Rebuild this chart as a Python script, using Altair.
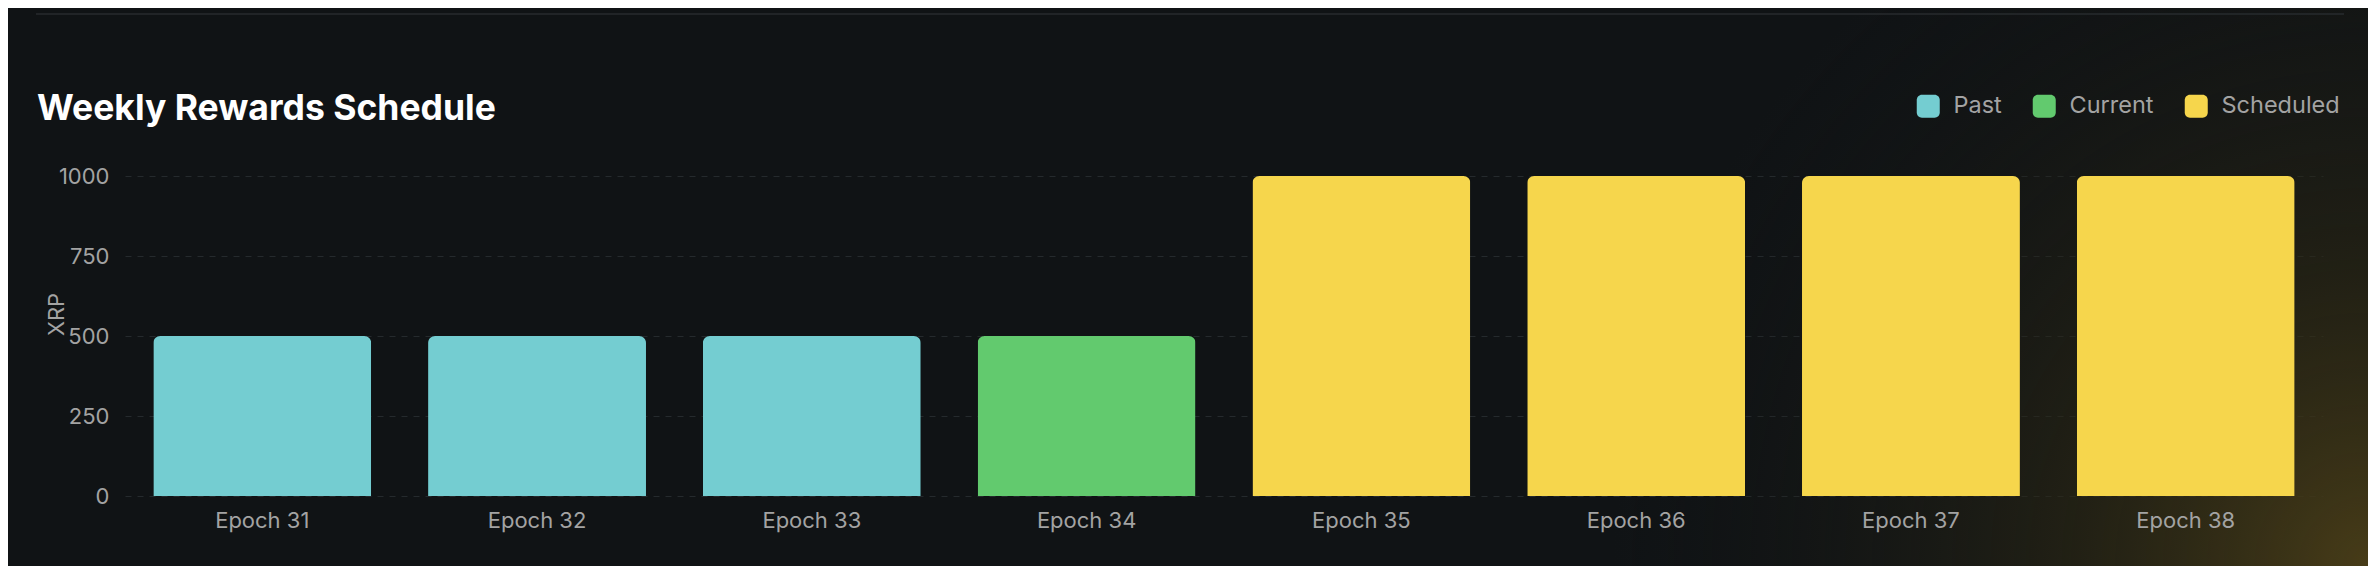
import altair as alt
import pandas as pd

# ---- data ----
epochs = ["Epoch 31", "Epoch 32", "Epoch 33", "Epoch 34",
          "Epoch 35", "Epoch 36", "Epoch 37", "Epoch 38"]
rewards = [500, 500, 500, 500, 1000, 1000, 1000, 1000]
status = ["Past", "Past", "Past", "Current",
          "Scheduled", "Scheduled", "Scheduled", "Scheduled"]
status_order = ["Past", "Current", "Scheduled"]
status_colors = ["#74CDD1", "#62CA6E", "#F6D64C"]
y_ticks = [0, 250, 500, 750, 1000]

df = pd.DataFrame({"epoch": epochs, "xrp": rewards, "status": status})

W, H = 2198, 320
PAD = {"left": 117, "top": 168, "right": 45, "bottom": 70}

rounded_sq = ("M -0.55 -1 L 0.55 -1 A 0.45 0.45 0 0 1 1 -0.55 L 1 0.55 "
              "A 0.45 0.45 0 0 1 0.55 1 L -0.55 1 A 0.45 0.45 0 0 1 -1 0.55 "
              "L -1 -0.55 A 0.45 0.45 0 0 1 -0.55 -1 Z")

# background glow (decoration)
glow = alt.Chart(alt.Data(values=[{"k": 1}])).mark_rect(
    fill=alt.RadialGradient(
        gradient="radial",
        x1=1, y1=0.618, r1=0,
        x2=1, y2=0.618, r2=0.32,
        stops=[
            alt.GradientStop(color="rgba(74,62,24,0.95)", offset=0),
            alt.GradientStop(color="rgba(44,40,20,0.6)", offset=0.4),
            alt.GradientStop(color="rgba(16,19,21,0)", offset=1),
        ],
    )
).encode(
    x=alt.value(-PAD["left"]), x2=alt.value(W + PAD["right"]),
    y=alt.value(-PAD["top"]), y2=alt.value(H + PAD["bottom"]),
)

top_line = alt.Chart(alt.Data(values=[{"k": 1}])).mark_rule(
    color="#272b2e", strokeWidth=1.5
).encode(
    x=alt.value(-89), x2=alt.value(2219), y=alt.value(-162)
)

bars = alt.Chart(df).mark_bar(
    cornerRadiusTopLeft=7, cornerRadiusTopRight=7
).encode(
    x=alt.X("epoch:N", sort=epochs,
            scale=alt.Scale(paddingInner=0.207, paddingOuter=0.103),
            axis=alt.Axis(title=None, labelAngle=0, ticks=False, domain=False,
                          grid=False, labelFontSize=22, labelColor="#a3a3a3",
                          labelPadding=14, zindex=1)),
    y=alt.Y("xrp:Q", scale=alt.Scale(domain=[0, 1000]),
            axis=alt.Axis(values=y_ticks, format="d", title="XRP", ticks=False,
                          domain=False,
                          labelFontSize=22, labelColor="#a3a3a3", labelPadding=16,
                          grid=True, gridColor="#252a2d", gridDash=[6, 6], gridWidth=1,
                          titleFontSize=22, titleColor="#a3a3a3", titleFontWeight="normal",
                          titleX=-69, titleY=138, titleBaseline="middle",
                          titleAlign="center")),
    color=alt.Color("status:N",
                    scale=alt.Scale(domain=status_order, range=status_colors),
                    legend=alt.Legend(title=None, orient="none", direction="horizontal",
                                      legendX=1791.5, legendY=-82,
                                      symbolType=rounded_sq, symbolSize=529,
                                      symbolStrokeWidth=0, symbolOpacity=1,
                                      labelFontSize=23.5, labelColor="#a3a3a3",
                                      labelOffset=13.5, columnPadding=30)),
)

chart = alt.layer(glow, top_line, bars).properties(
    width=W, height=H,
    autosize=alt.AutoSizeParams(type="none"),
    padding=PAD,
    title=alt.TitleParams("Weekly Rewards Schedule", anchor="start", frame="group",
                          fontSize=35.5, fontWeight=700, color="#ffffff",
                          baseline="alphabetic", dx=-88, offset=0, dy=147),
).configure(
    background="#101315", font="Inter"
).configure_view(stroke=None)

chart.save("out.html", embed_options={"renderer": "svg", "actions": False})
